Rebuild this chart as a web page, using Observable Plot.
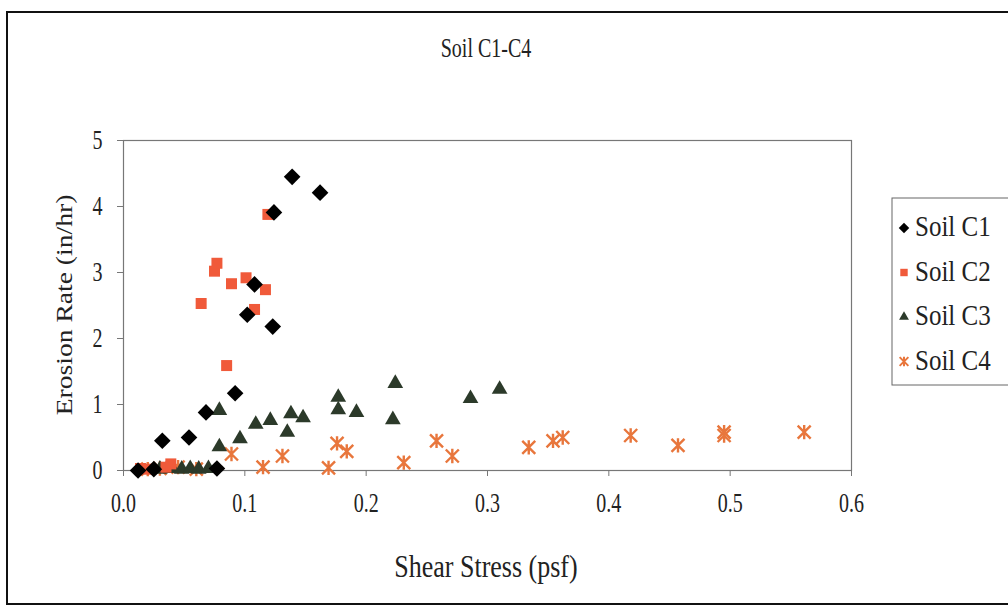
<!DOCTYPE html>
<html><head><meta charset="utf-8">
<script src="https://cdn.jsdelivr.net/npm/d3@7"></script>
<script src="https://cdn.jsdelivr.net/npm/@observablehq/plot@0.6"></script>
<style>body{margin:0;background:#fff;} svg{display:block;}</style>
</head><body><div id="chart"></div>
<script>
const seriesNames = ["Soil C1","Soil C2","Soil C3","Soil C4"];
const c1x = [0.012,0.025,0.032,0.054,0.068,0.077,0.092,0.102,0.108,0.123,0.124,0.139,0.162];
const c1y = [0.00,0.02,0.45,0.50,0.88,0.03,1.17,2.36,2.82,2.18,3.91,4.45,4.21];
const c2x = [0.014,0.020,0.035,0.039,0.064,0.075,0.077,0.085,0.089,0.101,0.108,0.117,0.119];
const c2y = [0.03,0.02,0.05,0.10,2.53,3.02,3.14,1.59,2.83,2.92,2.44,2.74,3.88];
const c3x = [0.030,0.040,0.048,0.055,0.062,0.070,0.079,0.079,0.096,0.109,0.121,0.135,0.138,0.148,0.177,0.177,0.192,0.222,0.224,0.286,0.310];
const c3y = [0.02,0.03,0.02,0.03,0.02,0.03,0.36,0.91,0.48,0.70,0.76,0.58,0.86,0.80,1.11,0.92,0.88,0.77,1.32,1.09,1.23];
const c4x = [0.020,0.030,0.045,0.060,0.089,0.115,0.131,0.169,0.176,0.184,0.231,0.258,0.271,0.334,0.354,0.362,0.418,0.457,0.495,0.495,0.561];
const c4y = [0.02,0.03,0.05,0.02,0.25,0.05,0.22,0.04,0.41,0.29,0.12,0.45,0.22,0.35,0.45,0.50,0.53,0.38,0.58,0.53,0.58];
const xTicks = [0,0.1,0.2,0.3,0.4,0.5,0.6];
const yTicks = [0,1,2,3,4,5];
const colors = ["#000000","#f05a3a","#2c3a2a","#e8763c"];

const toRows = (xs, ys) => xs.map((x,i)=>({x, y: ys[i]}));
const d1 = toRows(c1x,c1y), d2 = toRows(c2x,c2y), d3r = toRows(c3x,c3y), d4 = toRows(c4x,c4y);

const star = {
  draw(ctx, size) {
    const r = Math.sqrt(size / Math.PI);
    ctx.moveTo(-r, -r); ctx.lineTo(r, r);
    ctx.moveTo(r, -r); ctx.lineTo(-r, r);
    ctx.moveTo(0, -r*1.1); ctx.lineTo(0, r*1.1);
  }
};

const FONT = "'Liberation Serif', serif";
const W = 1008, H = 614;
const plot = Plot.plot({
  width: W, height: H,
  marginLeft: 123, marginRight: 157, marginTop: 140, marginBottom: 144,
  style: {fontFamily: FONT, fontSize: "20px", color: "#222", background: "#fff"},
  x: {domain: [0, 0.6], label: null},
  y: {domain: [0, 5], label: null},
  marks: [
    Plot.frame({stroke: "#777", strokeWidth: 1.2}),
    Plot.axisX({ticks: xTicks, tickFormat: d3.format(".1f"), tickSize: 6, tickPadding: 16, label: null, stroke: "#777"}),
    Plot.axisY({ticks: yTicks, tickFormat: d => String(d), tickSize: 6, tickPadding: 15, label: null, stroke: "#777"}),
    Plot.dot(d4, {x: "x", y: "y", symbol: star, r: 6.5, stroke: colors[3], strokeWidth: 2.4, fill: "none"}),
    Plot.dot(d3r, {x: "x", y: "y", symbol: "triangle2", r: 7.5, fill: colors[2], stroke: "none"}),
    Plot.dot(d2, {x: "x", y: "y", symbol: "square2", r: 7, fill: colors[1], stroke: "none"}),
    Plot.dot(d1, {x: "x", y: "y", symbol: "diamond2", r: 7.5, fill: colors[0], stroke: "none"})
  ]
});

const svg = d3.select(plot);
// stretch tick labels vertically to match the tall, narrow lettering of the original
svg.selectAll('g[aria-label="x-axis tick label"] text, g[aria-label="y-axis tick label"] text').each(function() {
  const t = this.getAttribute("transform") || "";
  this.setAttribute("transform", t + " scale(1,1.4)");
});

// outer chart border
svg.insert("rect", ":first-child").attr("x", 7).attr("y", 12).attr("width", 1010).attr("height", 592)
  .attr("fill", "none").attr("stroke", "#111").attr("stroke-width", 2);

function label(txt, x, y, size, sy, rot) {
  svg.append("text")
    .attr("transform", `translate(${x},${y}) scale(1,${sy})${rot ? " rotate(" + rot + ")" : ""}`)
    .attr("text-anchor", "middle").attr("font-family", FONT).attr("font-size", size)
    .attr("fill", "#222").text(txt);
}
label("Soil C1-C4", 486, 57, 20, 1.4, 0);
label("Shear Stress (psf)", 486, 577, 26, 1.2, 0);
label("Erosion Rate (in/hr)", 72, 305, 23, 1.2, -90);

// legend
const lg = svg.append("g");
lg.append("rect").attr("x", 892).attr("y", 198).attr("width", 130).attr("height", 187)
  .attr("fill", "#fff").attr("stroke", "#666").attr("stroke-width", 1);
const symTypes = [d3.symbolDiamond2, d3.symbolSquare2, d3.symbolTriangle2, star];
seriesNames.forEach((name, i) => {
  const yy = 228 + i * 44.5;
  const p = d3.symbol().type(symTypes[i]).size(i === 3 ? 60 : 70)();
  const g = lg.append("g").attr("transform", `translate(904,${yy})`);
  if (i === 3) g.append("path").attr("d", p).attr("fill", "none").attr("stroke", colors[i]).attr("stroke-width", 2);
  else g.append("path").attr("d", p).attr("fill", colors[i]);
  lg.append("text").attr("transform", `translate(915,${yy + 8}) scale(1,1.2)`)
    .attr("text-anchor", "start").attr("font-family", FONT)
    .attr("font-size", 25).attr("fill", "#222").text(name);
});

document.getElementById("chart").appendChild(plot);
</script></body></html>
